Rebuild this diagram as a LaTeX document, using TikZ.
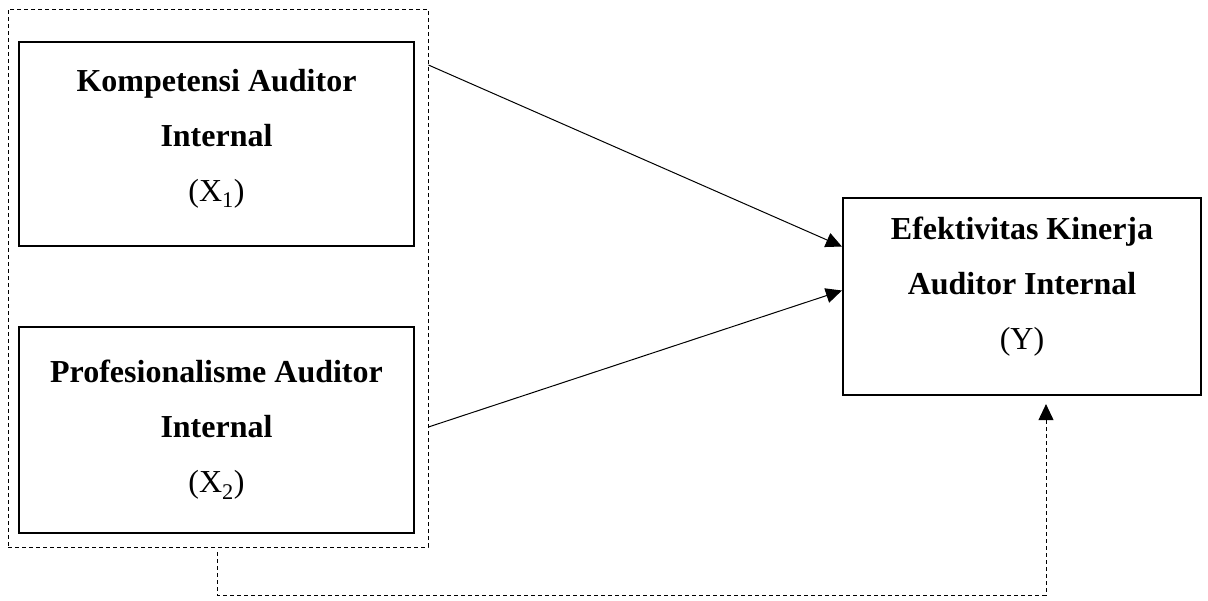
\documentclass[tikz,border=0pt]{standalone}
\usepackage{fontspec}
\setmainfont{Liberation Serif}
\usetikzlibrary{arrows.meta}
\begin{document}
\begin{tikzpicture}[x=1pt,y=-1pt,
  varbox/.style={draw, line width=2.2pt, align=center, inner sep=0pt,
    font=\fontsize{32}{55}\selectfont},
  grpbox/.style={draw, line width=0.9pt, dash pattern=on 4pt off 3pt, inner sep=0pt},
  arr/.style={line width=1pt, -{Triangle[length=16pt,width=15pt]}},
  darr/.style={line width=0.9pt, dash pattern=on 4pt off 3pt, -{Triangle[length=16pt,width=15pt]}}
]
\useasboundingbox (0,0) rectangle (1208,600);
\node[grpbox, minimum width=420pt, minimum height=538pt] (grp) at (218,278) {};
\node[varbox, text depth=17pt, minimum width=395pt, minimum height=204pt] (x1) at (216.5,144)
  {\textbf{Kompetensi Auditor}\\\textbf{Internal}\\(X\textsubscript{1})};
\node[varbox, minimum width=395pt, minimum height=206pt] (x2) at (216.5,430)
  {\textbf{Profesionalisme Auditor}\\\textbf{Internal}\\(X\textsubscript{2})};
\node[varbox, text depth=27pt, minimum width=358pt, minimum height=197pt] (y) at (1022,296.5)
  {\textbf{Efektivitas Kinerja}\\\textbf{Auditor Internal}\\(Y)};
\coordinate (a1) at ([yshift=213pt]grp.east);
\coordinate (a2) at ([yshift=-149pt]grp.east);
\draw[arr] (a1) -- ([yshift=50pt]y.west);
\draw[arr] (a2) -- ([yshift=6pt]y.west);
\coordinate (c1) at (217,595);
\coordinate (c2) at (1046,595);
\draw[darr, shorten >=8pt] ([xshift=-1pt,yshift=-5pt]grp.south) -- (c1) -- (c2) -- ([xshift=24pt]y.south);
\end{tikzpicture}
\end{document}
